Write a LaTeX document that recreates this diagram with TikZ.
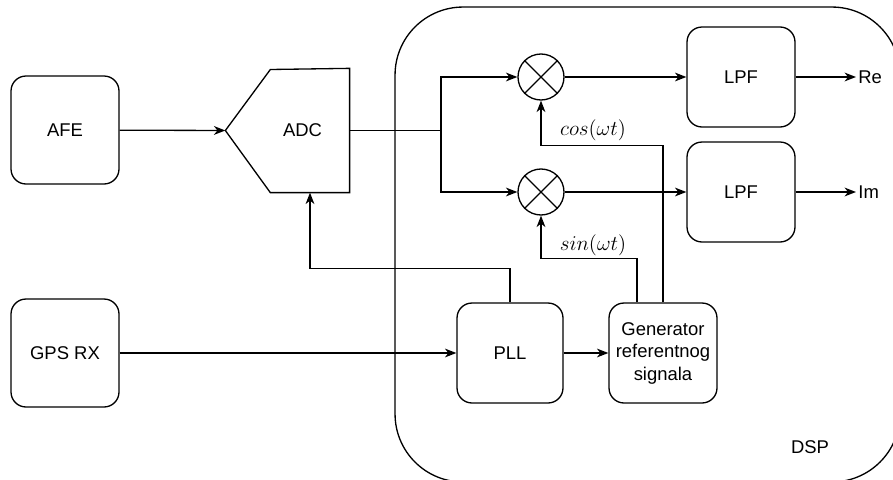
\documentclass[tikz,border=0pt]{standalone}
\usepackage{fontspec}
\setmainfont{Liberation Sans}
\usetikzlibrary{arrows.meta}

\begin{document}
\begin{tikzpicture}[x=0.02cm,y=-0.02cm,line width=0.75pt,>={Stealth[length=6.5pt,width=5pt,inset=2pt]},block/.style={draw,rounded corners=0.3cm,minimum width=2.16cm,minimum height=2cm,inner sep=1pt,align=center,font=\fontsize{10.5}{12.8}\selectfont},mix/.style={draw,circle,minimum size=0.92cm,inner sep=0pt},sig/.style={font=\fontsize{12}{14}\selectfont}]
            \clip (0,0) rectangle (893,480);

            % DSP area, runs off the page on the right and bottom
            \node[draw, rounded corners=1.36cm, minimum width=10.1cm, minimum height=9.5cm, inner sep=0pt] (12) at (647.5,244.5){};
            \node[font=\fontsize{10.5}{12.8}\selectfont] (13) at (810,447){DSP};

            \node[block, minimum height=2.16cm] (0) at (65,130){AFE};
            \node[block, minimum height=2.16cm] (1) at (65,353){GPS RX};

            % ADC outline
            \node[minimum width=2.46cm, minimum height=2.46cm, inner sep=0pt] (2) at (287.5,130.5){};
            \draw (2.west) -- ++(45,-61) -- (2.north east) -- (2.south east) -- ([xshift=0.9cm]2.south west) -- cycle;
            \node[font=\fontsize{10.5}{12.8}\selectfont] (3) at ([xshift=0.3cm]2.center){ADC};

            \node[block, minimum width=2.12cm] (4) at (510,353){PLL};
            \node[block] (5) at (663,353){Generator\\referentnog\\signala};

            \node[mix] (6) at (541,77){};
            \node[mix] (7) at (541,192){};
            \draw (6.north west) -- (6.south east) (6.north east) -- (6.south west);
            \draw (7.north west) -- (7.south east) (7.north east) -- (7.south west);

            \node[block] (8) at (741,77){LPF};
            \node[block] (9) at (741,192){LPF};
            \node[anchor=west, inner sep=1pt, font=\fontsize{10.5}{12.8}\selectfont] (10) at (856,77){Re};
            \node[anchor=west, inner sep=1pt, font=\fontsize{10.5}{12.8}\selectfont] (11) at (856,192){Im};

            \node[sig] (14) at (593,130){$cos(\omega t)$};
            \node[sig] (15) at (593,245){$sin(\omega t)$};

            \coordinate (16) at (441,130.5);

            \draw[->] (0) -- (2.west);
            \draw (2.east) -- (16);
            \draw[->] (16) |- (6);
            \draw[->] (16) |- (7);
            \draw[->] (6) -- (8);
            \draw[->] (7) -- (9);
            \draw[->] (8) -- (10);
            \draw[->] (9) -- (11);
            \draw[->] (1) -- (4);
            \draw[->] (4) -- (5);
            \draw[->] (4.north) -- ++(0,-34) -| ([xshift=0.45cm]2.south);
            \draw[->] (5.north) -- ++(0,-157) -| (6.south);
            \draw[->] ([xshift=-0.52cm]5.north) -- ++(0,-44) -| (7.south);
        \end{tikzpicture}
\end{document}
